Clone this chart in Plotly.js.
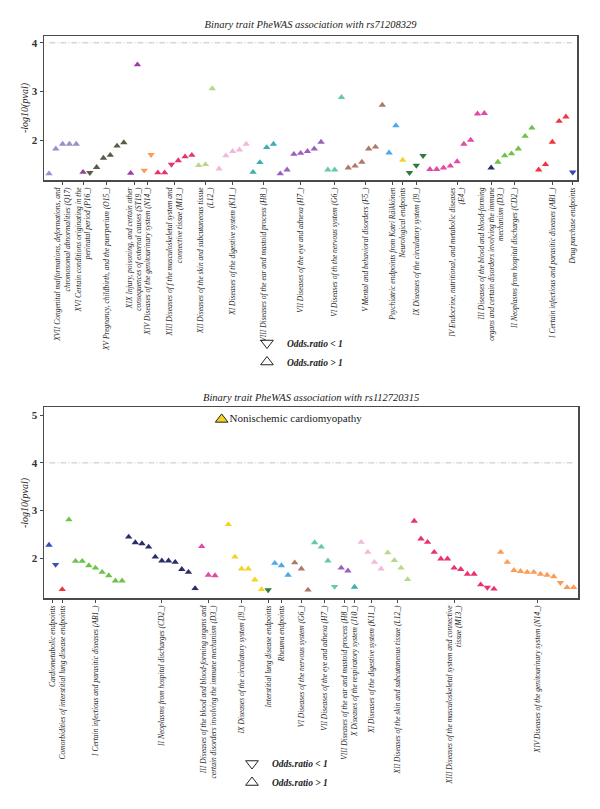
<!DOCTYPE html>
<html><head><meta charset="utf-8">
<script src="https://cdn.plot.ly/plotly-3.0.1.min.js"></script>
<style>html,body{margin:0;padding:0;background:#fff}</style>
</head><body>
<div id="chart" style="width:600px;height:809px"></div>
<script>
// ---------- Top panel: rs71208329 ----------
const topTitle = "Binary trait PheWAS association with rs71208329";
const topGroups = [
  "XVII Congenital malformations, deformations, and<br>chromosomal abnormalities (Q17)",
  "XVI Certain conditions originating in the<br>perinatal period (P16_)",
  "XV Pregnancy, childbirth, and the puerperium (O15_)",
  "XIX Injury, poisoning, and certain other<br>consequences of external causes (ST19_)",
  "XIV Diseases of the genitourinary system (N14_)",
  "XIII Diseases of f the musculoskeletal system and<br>connective tissue (M13_)",
  "XII Diseases of the skin and subcutaneous tissue<br>(L12_)",
  "XI Diseases of the digestive system (K11_)",
  "VIII Diseases of the ear and mastoid process (H8_)",
  "VII Diseases of the eye and adnexa (H7_)",
  "VI Diseases of th the nervous system (G6_)",
  "V Mental and behavioral disorders (F5_)",
  "Psychiatric endpoints from Katri Räikkönen",
  "Neurological endpoints",
  "IX Diseases of the circulatory system (I9_)",
  "IV Endocrine, nutritional, and metabolic diseases<br>(E4_)",
  "III Diseases of the blood and blood-forming<br>organs and certain disorders involving the immune<br>mechanism (D3_)",
  "II Neoplasms from hospital discharges (CD2_)",
  "I Certain infectious and parasitic diseases (AB1_)",
  "Drug purchase endpoints"
];
const topCounts = [5,1,6,2,2,6,3,5,4,7,3,6,2,1,3,9,1,6,5,1];
const topValues = [
  1.31,1.82,1.92,1.92,1.92,
  1.34,
  1.33,1.44,1.63,1.69,1.88,1.95,
  1.32,3.55,
  1.38,1.70,
  1.33,1.33,1.50,1.58,1.66,1.69,
  1.48,1.50,3.06,
  1.41,1.68,1.77,1.80,1.92,
  1.34,1.54,1.85,1.92,
  1.31,1.39,1.71,1.73,1.77,1.82,1.96,
  1.39,1.39,2.88,
  1.43,1.47,1.55,1.82,1.86,2.72,
  1.74,2.30,
  1.59,
  1.33,1.48,1.68,
  1.40,1.40,1.43,1.47,1.56,1.92,2.00,2.54,2.55,
  1.43,
  1.55,1.68,1.72,1.82,2.08,2.25,
  1.39,1.50,1.96,2.39,2.48,
  1.34
];
// odds ratio direction per point, grouped: u = OR>1, d = OR<1
const topDirs = ["uuuuu","u","duuuuu","uu","dd","uuduuu","uuu","uuuuu","uuuu","uuuuuuu","uuu","uuuuuu","uu","u","ddd","uuuuuuuuu","u","uuuuuu","uuuuu","d"];
const topColors = ["#9e8ccb","#963f9e","#5b5a45","#9c3fa3","#fd9b55","#e8336e","#b8d98a","#f3b8dc","#3aaeb0","#9a60c0","#66c7ad","#b07868","#4aaae8","#f7d320","#2e7a3a","#e04aa6","#2c2c6a","#6cc24a","#f0353d","#3646b0"];

// ---------- Bottom panel: rs112720315 ----------
const botTitle = "Binary trait PheWAS association with rs112720315";
const botGroups = [
  "Cardiometabolic endpoints",
  "Comorbidities of interstitial lung disease endpoints",
  "I Certain infectious and parasitic diseases (AB1_)",
  "II Neoplasms from hospital discharges (CD2_)",
  "III Diseases of the blood and blood-forming organs and<br>certain disorders involving the immune mechanism (D3_)",
  "IX Diseases of the circulatory system (I9_)",
  "Interstitial lung disease endpoints",
  "Rheuma endpoints",
  "VI Diseases of the nervous system (G6_)",
  "VII Diseases of the eye and adnexa (H7_)",
  "VIII Diseases of the ear and mastoid process (H8_)",
  "X Diseases of the respiratory system (J10_)",
  "XI Diseases of the digestive system (K11_)",
  "XII Diseases of the skin and subcutaneous tissue (L12_)",
  "XIII Diseases of the musculoskeletal system and connective<br>tissue (M13_)",
  "XIV Diseases of the genitourinary system (N14_)"
];
const botCounts = [2,1,9,11,3,7,1,3,3,4,2,1,4,4,13,12];
const botValues = [
  2.28,1.87,
  1.35,
  2.81,1.94,1.94,1.85,1.80,1.71,1.64,1.53,1.53,
  2.45,2.33,2.31,2.24,2.03,1.95,1.95,1.92,1.77,1.71,1.37,
  2.25,1.65,1.64,
  4.91,2.71,2.03,1.78,1.78,1.55,1.35,
  1.34,
  1.90,1.85,1.65,
  1.91,1.78,1.34,
  2.33,2.24,1.95,1.41,
  1.80,1.74,
  1.40,
  2.34,2.13,1.92,1.78,
  2.12,1.96,1.80,1.56,
  2.78,2.41,2.34,2.13,1.99,1.99,1.80,1.77,1.67,1.67,1.45,1.39,1.36,
  2.13,1.92,1.75,1.73,1.71,1.71,1.67,1.65,1.62,1.49,1.39,1.39
];
const botDirs = ["ud","u","uuuuuuuuu","uuuuuuuuuuu","uuu","uuuuuuu","d","uuu","uuu","uuud","uu","u","uuuu","uuuu","uuuuuuuuuuudu","uuuuuuuuuduu"];
const botLabels = [{index: 26, text: "Nonischemic cardiomyopathy"}];
const botColors = ["#3a50b4","#f0353d","#6cc24a","#2c2c6a","#e04aa6","#f7d320","#2e7a3a","#4aaae8","#b07868","#66c7ad","#9a60c0","#3aaeb0","#f3b8dc","#b8d98a","#e8336e","#fd9b55"];

// ---------- build ----------
const SERIF = "Liberation Serif, Times New Roman, serif";
function expand(counts, colors, dirs) {
  const x = [], col = [], sym = [], tickvals = [];
  let i = 0;
  counts.forEach((n, g) => {
    const start = i + 1;
    for (let k = 0; k < n; k++) {
      i++;
      x.push(i);
      col.push(colors[g]);
      sym.push(dirs[g][k] === 'd' ? 'triangle-down' : 'triangle-up');
    }
    tickvals.push((start + i) / 2);
  });
  return {x, col, sym, tickvals};
}
const T = expand(topCounts, topColors, topDirs);
const B = expand(botCounts, botColors, botDirs);

const labIdx = new Set(botLabels.map(l => l.index));
const MS = 6.5;
const traces = [
  {type:'scatter', mode:'markers', x:T.x, y:topValues, xaxis:'x', yaxis:'y', showlegend:false,
   marker:{color:T.col, symbol:T.sym, size:MS, line:{width:0}}},
  {type:'scatter', mode:'markers', x:B.x, y:botValues.map((v,i)=>labIdx.has(i)?null:v), xaxis:'x2', yaxis:'y2', showlegend:false,
   marker:{color:B.col, symbol:B.sym, size:MS, line:{width:0}}},
  {type:'scatter', mode:'markers+text', x:botLabels.map(l=>B.x[l.index]), y:botLabels.map(l=>botValues[l.index]),
   text:botLabels.map(l=>l.text), textposition:'middle right', xaxis:'x2', yaxis:'y2', showlegend:false,
   textfont:{family:SERIF, size:11, color:'#222'},
   marker:{color:botLabels.map(l=>B.col[l.index]), symbol:botLabels.map(l=>B.sym[l.index]), size:11, line:{width:1, color:'#222'}}},
  // legends
  {type:'scatter', mode:'markers', x:[null], y:[null], xaxis:'x', yaxis:'y', name:'Odds.ratio < 1', legend:'legend',
   marker:{symbol:'triangle-down-open', size:11, color:'#222', line:{width:1}}},
  {type:'scatter', mode:'markers', x:[null], y:[null], xaxis:'x', yaxis:'y', name:'Odds.ratio > 1', legend:'legend',
   marker:{symbol:'triangle-up-open', size:11, color:'#222', line:{width:1}}},
  {type:'scatter', mode:'markers', x:[null], y:[null], xaxis:'x2', yaxis:'y2', name:'Odds.ratio < 1', legend:'legend2',
   marker:{symbol:'triangle-down-open', size:11, color:'#222', line:{width:1}}},
  {type:'scatter', mode:'markers', x:[null], y:[null], xaxis:'x2', yaxis:'y2', name:'Odds.ratio > 1', legend:'legend2',
   marker:{symbol:'triangle-up-open', size:11, color:'#222', line:{width:1}}}
];

const W = 600, H = 809;
const px = v => v / W, py = v => 1 - v / H;
const tickFont = {family:SERIF, size:7.5, style:'italic', color:'#222'};
const yTickFont = {family:SERIF, size:11, weight:'bold', color:'#333'};
const axisCommon = {showline:true, mirror:true, linecolor:'#4a4a4a', linewidth:1.5, showgrid:false, zeroline:false,
  ticks:'outside', ticklen:3, tickcolor:'#4a4a4a', tickwidth:1};
const legendFont = {family:SERIF, size:9.5, style:'italic', weight:'bold', color:'#222'};
const refLine = {color:'#c4c4c4', width:1, dash:'6px,2px,1px,2px'};

const layout = {
  width:W, height:H, margin:{l:0, r:0, t:0, b:0}, paper_bgcolor:'#fff', plot_bgcolor:'#fff',
  title:{text:topTitle, font:{family:SERIF, size:10.5, style:'italic', color:'#222'}, x:px(310.5), xanchor:'center', y:py(24.5), yanchor:'middle'},
  xaxis:Object.assign({}, axisCommon, {domain:[px(44), px(577)], anchor:'y', range:[0.26, 78.63],
    tickmode:'array', tickvals:T.tickvals, ticktext:topGroups, tickangle:-90, tickfont:tickFont}),
  yaxis:Object.assign({}, axisCommon, {domain:[py(180), py(36)], anchor:'x', range:[1.18, 4.14],
    tickmode:'array', tickvals:[2,3,4], ticktext:['2','3','4'], tickfont:yTickFont}),
  xaxis2:Object.assign({}, axisCommon, {domain:[px(44), px(578)], anchor:'y2', range:[0.25, 80.65],
    tickmode:'array', tickvals:B.tickvals, ticktext:botGroups, tickangle:-90, tickfont:tickFont}),
  yaxis2:Object.assign({}, axisCommon, {domain:[py(598), py(407)], anchor:'x2', range:[1.17, 5.17],
    tickmode:'array', tickvals:[2,3,4,5], ticktext:['2','3','4','5'], tickfont:yTickFont}),
  shapes:[
    {type:'line', xref:'x domain', yref:'y', x0:0.01, x1:0.99, y0:4, y1:4, line:refLine},
    {type:'line', xref:'x2 domain', yref:'y2', x0:0.01, x1:0.99, y0:4, y1:4, line:refLine}
  ],
  annotations:[
    {text:botTitle, xref:'paper', yref:'paper', x:px(311), y:py(397), xanchor:'center', yanchor:'middle', showarrow:false,
     font:{family:SERIF, size:10.5, style:'italic', color:'#222'}},
    {text:'-log10(pval)', xref:'paper', yref:'paper', x:px(25), y:py(108), textangle:-90, xanchor:'center', yanchor:'middle', showarrow:false,
     font:{family:SERIF, size:10, style:'italic', color:'#222'}},
    {text:'-log10(pval)', xref:'paper', yref:'paper', x:px(25), y:py(503), textangle:-90, xanchor:'center', yanchor:'middle', showarrow:false,
     font:{family:SERIF, size:10, style:'italic', color:'#222'}}
  ],
  legend:{x:px(247), xanchor:'left', y:py(352.5), yanchor:'middle', bgcolor:'rgba(0,0,0,0)', font:legendFont, traceorder:'normal'},
  legend2:{x:px(232), xanchor:'left', y:py(773), yanchor:'middle', bgcolor:'rgba(0,0,0,0)', font:legendFont, traceorder:'normal'}
};
Plotly.newPlot('chart', traces, layout, {staticPlot:true, displayModeBar:false});
</script>
</body></html>
